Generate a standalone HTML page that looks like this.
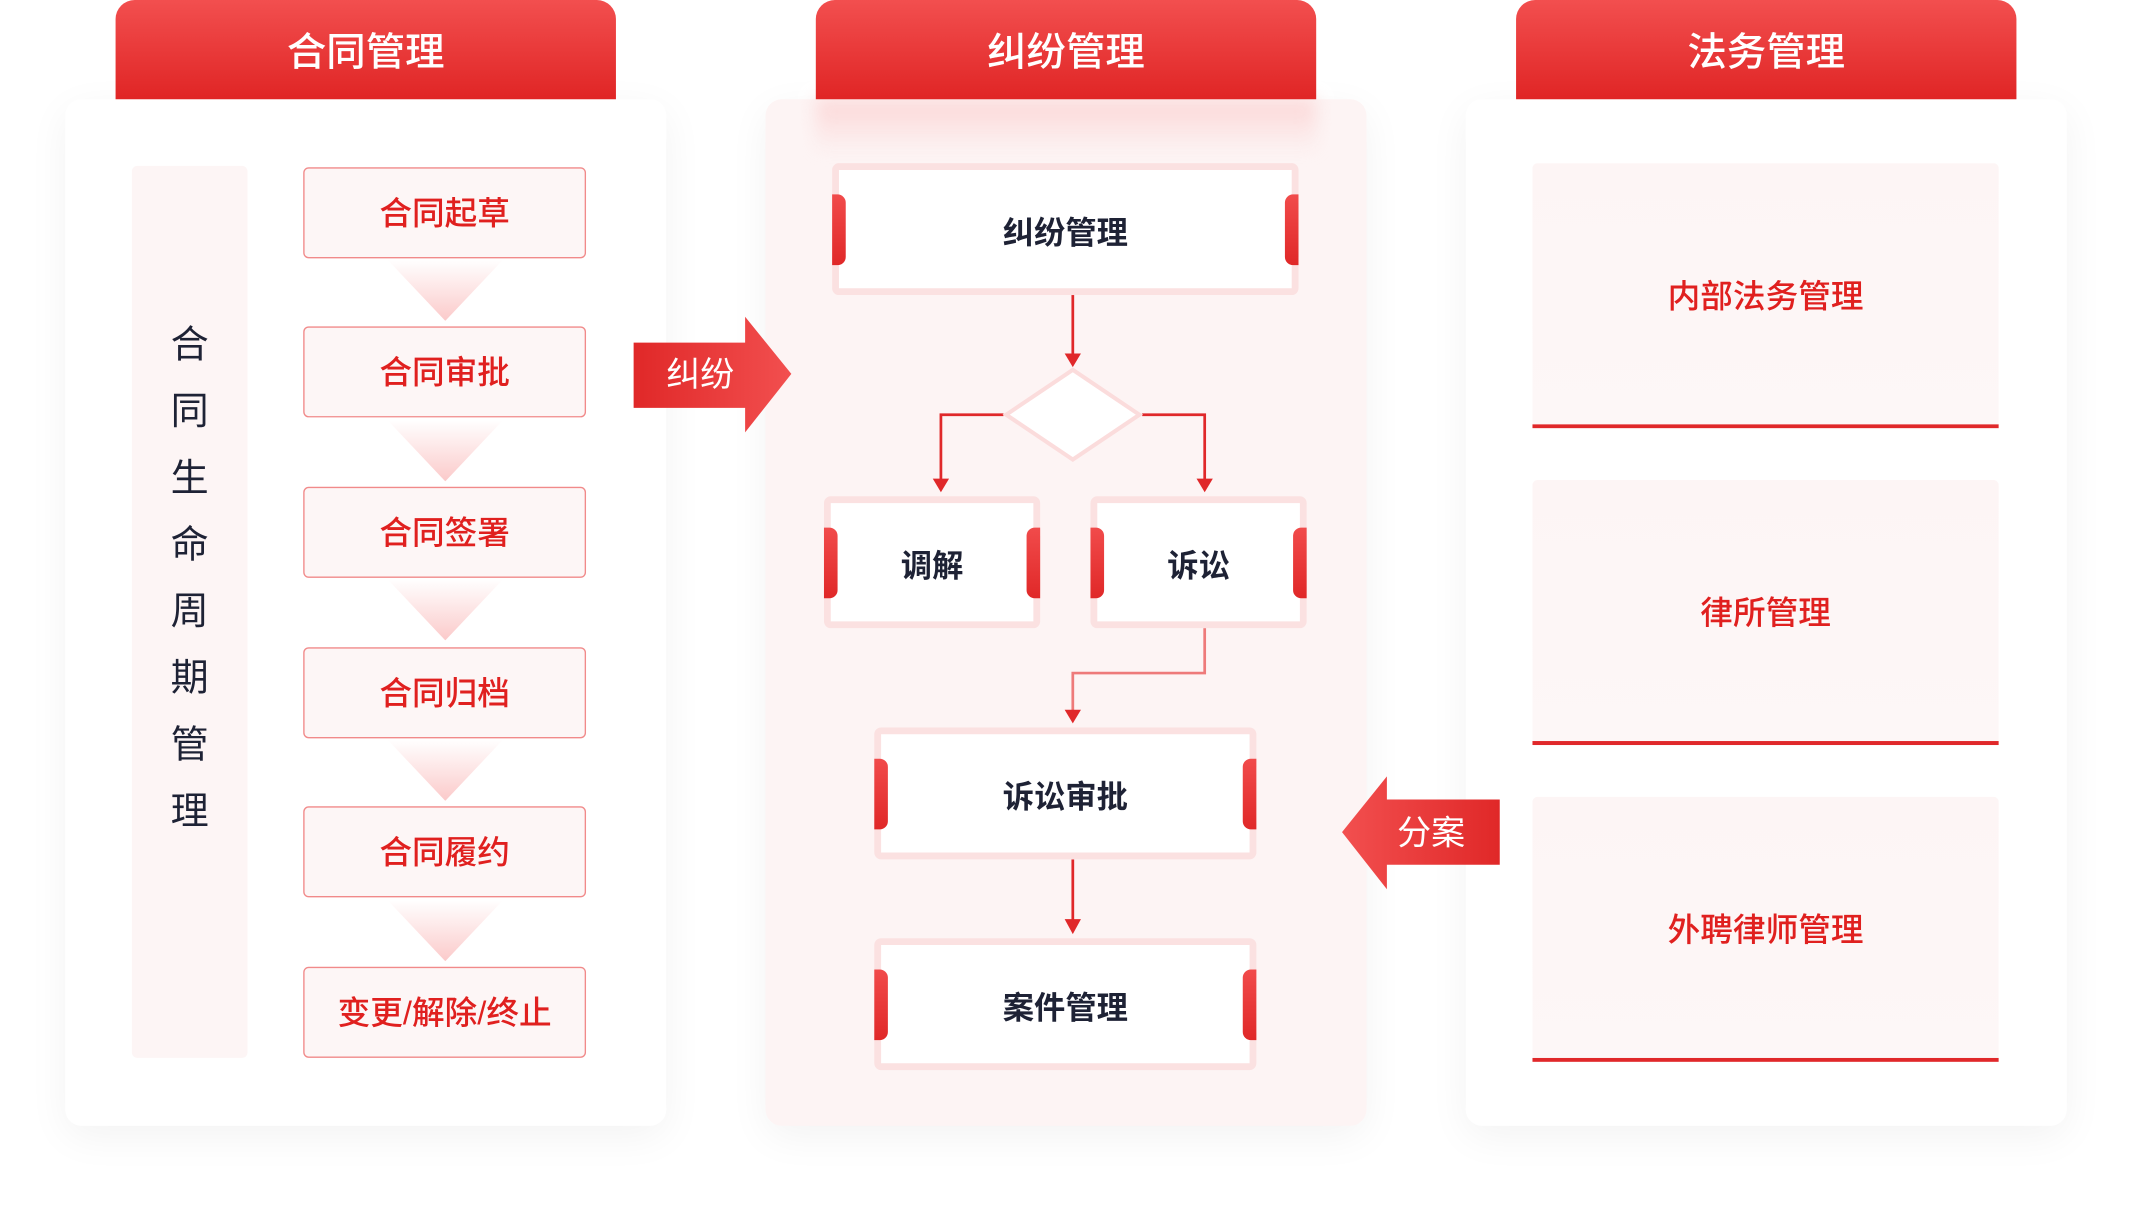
<!DOCTYPE html>
<html><head><meta charset="utf-8"><style>
html,body{margin:0;padding:0;background:#fff;width:2132px;height:1206px;overflow:hidden}
#s{position:absolute;left:0;top:0;width:1568px;height:887px;transform:scale(1.3597);transform-origin:0 0;font-family:"Liberation Sans","Noto Sans CJK SC",sans-serif}
.a{position:absolute;box-sizing:border-box}
.hd{height:73px;top:0;width:368px;border-radius:14px 14px 0 0;background:linear-gradient(180deg,#f24f4f,#e02525);color:#fff;font-size:29px;text-align:center;line-height:78px;font-weight:500;z-index:2}
.pn{top:73px;height:755px;width:442px;border-radius:12px;background:#fff;box-shadow:0 8px 30px rgba(0,0,0,0.05)}
.st{left:223px;width:208px;height:67px;border:1.5px solid #f18a8a;border-radius:4px;background:#fdf6f6;color:#e0201f;font-size:24px;font-weight:500;text-align:center;line-height:68px}
.tri{left:285px;width:85px;height:45px;clip-path:polygon(0 0,100% 0,50% 100%);background:linear-gradient(180deg,#fff,#fbcaca)}
.bx{border:5px solid #fbe1e1;border-radius:5px;background:#fff;color:#1e2235;font-size:23px;font-weight:bold;text-align:center}
.tab{position:absolute;width:10px;height:52px;background:linear-gradient(180deg,#f14b4b,#e02828);top:50%;margin-top:-26px}
.tl{left:-5px;border-radius:0 6px 6px 0}.tr{right:-5px;border-radius:6px 0 0 6px}
.cd{left:1127px;width:343px;height:195px;background:linear-gradient(180deg,#fdf5f5,#fdf7f7);border-bottom:3px solid #e0282a;border-radius:4px 4px 0 0;color:#e0201f;font-size:24px;font-weight:500;text-align:center;line-height:198px}
</style></head><body><div id="s">
<div class="a hd" style="left:85px">合同管理</div>
<div class="a hd" style="left:600px">纠纷管理</div>
<div class="a hd" style="left:1115px">法务管理</div>
<div class="a pn" style="left:48px"></div>
<div class="a pn" style="left:563px;background:#fdf4f4"></div>
<div class="a" style="left:600px;top:73px;width:368px;height:40px;background:linear-gradient(180deg,#fbd6d6,rgba(253,244,244,0));filter:blur(6px)"></div>
<div class="a pn" style="left:1078px"></div>

<div class="a" style="left:97px;top:122px;width:85px;height:656px;background:#fdf5f5;border-radius:4px"></div>
<div class="a" style="left:97px;top:229px;width:85px;font-size:28px;color:#1e2235;text-align:center;line-height:49px">合<br>同<br>生<br>命<br>周<br>期<br>管<br>理</div>

<div class="a st" style="top:123px">合同起草</div>
<div class="a tri" style="top:191px"></div>
<div class="a st" style="top:240px">合同审批</div>
<div class="a tri" style="top:309px"></div>
<div class="a st" style="top:358px">合同签署</div>
<div class="a tri" style="top:426px"></div>
<div class="a st" style="top:476px">合同归档</div>
<div class="a tri" style="top:544px"></div>
<div class="a st" style="top:593px">合同履约</div>
<div class="a tri" style="top:662px"></div>
<div class="a st" style="top:711px">变更/解除/终止</div>

<svg class="a" style="left:0;top:0" width="1568" height="887">
<defs>
<linearGradient id="g1" x1="0" x2="1"><stop offset="0" stop-color="#e02828"/><stop offset="1" stop-color="#f24f4f"/></linearGradient>
<linearGradient id="g2" x1="0" x2="1"><stop offset="0" stop-color="#f24f4f"/><stop offset="1" stop-color="#e02828"/></linearGradient>
</defs>
<path d="M466 252 H548 V233 L582 275 L548 318 V300 H466 Z" fill="url(#g1)"/>
<path d="M1103 588 H1020 V571 L987 612 L1020 654 V636 H1103 Z" fill="url(#g2)"/>
<g stroke="#e0282a" stroke-width="2" fill="none">
<path d="M789 217 V262"/>
<path d="M738 305 H692 V354"/>
<path d="M840 305 H886 V354"/>
<path d="M886 462 V495 H789 V526" stroke="#ee7a7a"/>
<path d="M789 632 V681"/>
</g>
<g fill="#e0282a">
<path d="M783 260 L795 260 L789 270Z"/>
<path d="M686 352 L698 352 L692 362Z"/>
<path d="M880 352 L892 352 L886 362Z"/>
<path d="M783 522 L795 522 L789 532Z"/>
<path d="M783 676 L795 676 L789 687Z"/>
</g>
<path d="M789 272 L838 305 L789 338 L740 305 Z" fill="#fff" stroke="#fbdcdc" stroke-width="3"/>
</svg>
<div class="a" style="left:466px;top:252px;width:100px;height:48px;color:#fff;font-size:25px;line-height:48px;padding-left:24px">纠纷</div>
<div class="a" style="left:1010px;top:588px;width:85px;height:48px;color:#fff;font-size:25px;line-height:50px;text-align:center">分案</div>

<div class="a bx" style="left:612px;top:120px;width:343px;height:97px;line-height:92px">纠纷管理<span class="tab tl"></span><span class="tab tr"></span></div>
<div class="a bx" style="left:606px;top:365px;width:159px;height:97px;line-height:92px">调解<span class="tab tl"></span><span class="tab tr"></span></div>
<div class="a bx" style="left:802px;top:365px;width:159px;height:97px;line-height:92px">诉讼<span class="tab tl"></span><span class="tab tr"></span></div>
<div class="a bx" style="left:643px;top:535px;width:281px;height:97px;line-height:92px">诉讼审批<span class="tab tl"></span><span class="tab tr"></span></div>
<div class="a bx" style="left:643px;top:690px;width:281px;height:97px;line-height:92px">案件管理<span class="tab tl"></span><span class="tab tr"></span></div>

<div class="a cd" style="top:120px">内部法务管理</div>
<div class="a cd" style="top:353px">律所管理</div>
<div class="a cd" style="top:586px">外聘律师管理</div>
</div></body></html>
